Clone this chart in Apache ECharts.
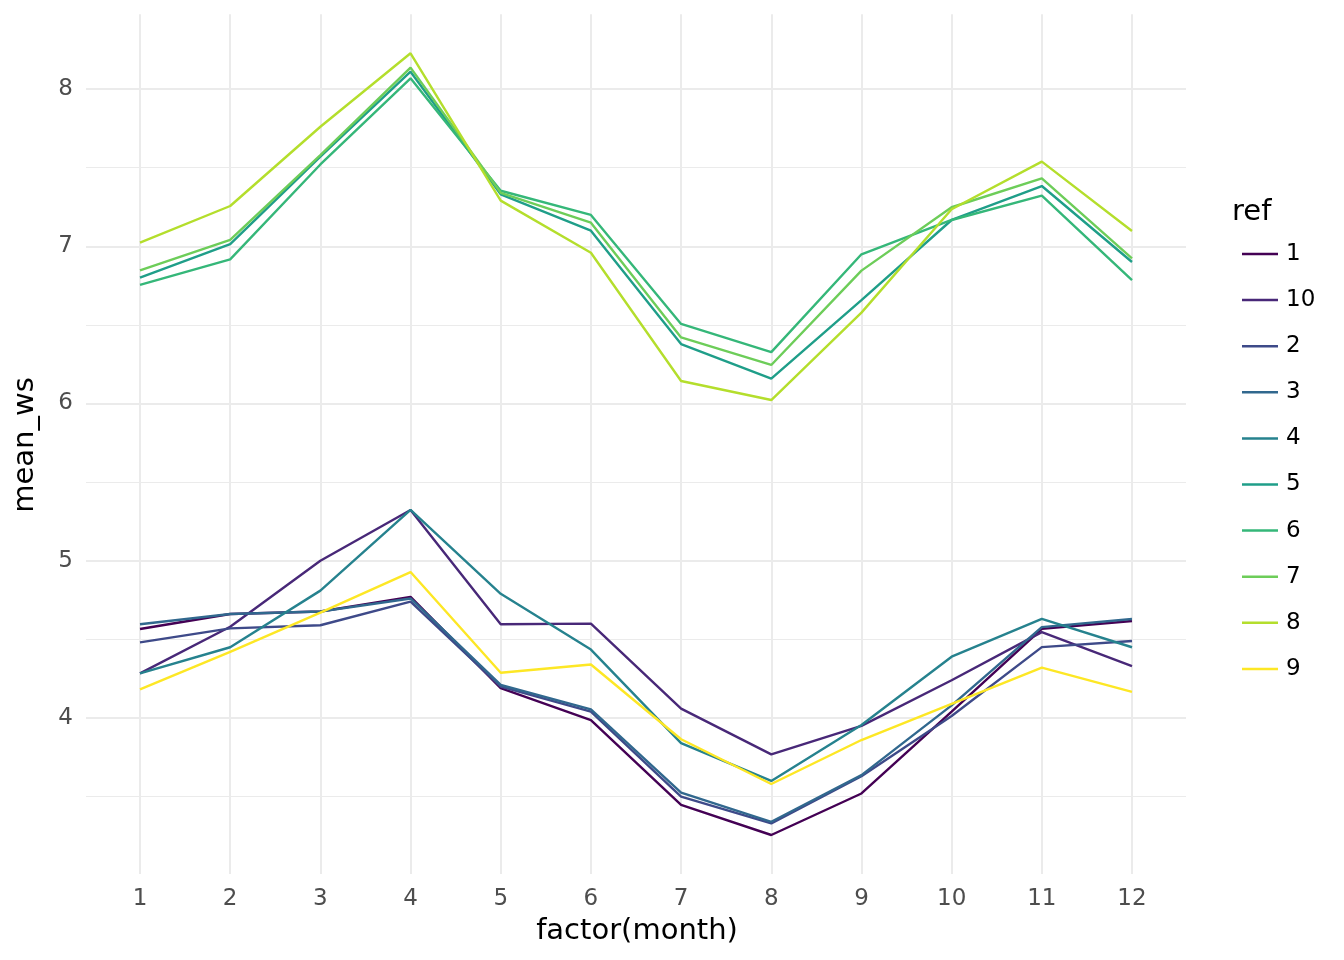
<!DOCTYPE html>
<html>
<head>
<meta charset="utf-8">
<script src="https://cdn.jsdelivr.net/npm/echarts@6/dist/echarts.min.js"></script>
<style>
html,body{margin:0;padding:0;background:#fff;}
#chart{width:1344px;height:960px;}
</style>
</head>
<body>
<div id="chart"></div>
<script>
const months = ['1','2','3','4','5','6','7','8','9','10','11','12'];
const refs = ['1','10','2','3','4','5','6','7','8','9'];
const colors = ['#440154','#482878','#3E4A89','#31688E','#26828E','#1F9E89','#35B779','#6DCD59','#B4DE2C','#FDE725'];
const yTicks = [4,5,6,7,8];

const ref1  = [4.566, 4.661, 4.677, 4.770, 4.190, 3.987, 3.447, 3.256, 3.520, 4.040, 4.567, 4.617];
const ref10 = [4.284, 4.580, 5.000, 5.323, 4.596, 4.600, 4.060, 3.769, 3.950, 4.240, 4.546, 4.330];
const ref2  = [4.481, 4.570, 4.590, 4.740, 4.200, 4.040, 3.500, 3.330, 3.630, 4.013, 4.451, 4.490];
const ref3  = [4.596, 4.661, 4.677, 4.760, 4.210, 4.055, 3.526, 3.340, 3.637, 4.080, 4.578, 4.630];
const ref4  = [4.284, 4.450, 4.810, 5.323, 4.790, 4.435, 3.840, 3.600, 3.955, 4.390, 4.630, 4.450];
const ref5  = [6.800, 7.014, 7.570, 8.110, 7.330, 7.099, 6.378, 6.158, 6.658, 7.167, 7.383, 6.900];
const ref6  = [6.754, 6.917, 7.520, 8.068, 7.353, 7.199, 6.506, 6.327, 6.949, 7.167, 7.322, 6.785];
const ref7  = [6.847, 7.040, 7.580, 8.136, 7.340, 7.150, 6.420, 6.245, 6.845, 7.248, 7.432, 6.923];
const ref8  = [7.023, 7.256, 7.760, 8.227, 7.290, 6.959, 6.143, 6.022, 6.578, 7.235, 7.538, 7.097];
const ref9  = [4.182, 4.420, 4.670, 4.928, 4.288, 4.340, 3.865, 3.580, 3.860, 4.090, 4.320, 4.166];

const seriesData = [ref1, ref10, ref2, ref3, ref4, ref5, ref6, ref7, ref8, ref9];

// ggplot-like 5% expansion of the data range
let dMin = Infinity, dMax = -Infinity;
seriesData.forEach(a => a.forEach(v => { dMin = Math.min(dMin, v); dMax = Math.max(dMax, v); }));
const span = dMax - dMin;
const yMin = dMin - 0.05 * span;
const yMax = dMax + 0.05 * span;

// layout: value 8 at y=89, value 4 at y=718
const pxPerUnit = (718 - 89) / 4;
const yOf = v => 89 + (8 - v) * pxPerUnit;
const bgMin = 3, bgMax = 8.5;
const bgTop = yOf(bgMax), bgHeight = (bgMax - bgMin) * pxPerUnit;
const dTop = yOf(yMax), dHeight = (yMax - yMin) * pxPerUnit;

const FONT = 'DejaVu Sans';
const chart = echarts.init(document.getElementById('chart'), null, {renderer: 'canvas'});

const option = {
  animation: false,
  backgroundColor: '#ffffff',
  textStyle: {fontFamily: FONT},
  grid: [
    {left: 86, width: 1100, top: bgTop, height: bgHeight, containLabel: false},
    {left: 140, width: 992, top: dTop, height: dHeight, containLabel: false}
  ],
  xAxis: [
    {gridIndex: 0, type: 'value', min: 0, max: 1, show: false},
    {
      gridIndex: 1, type: 'category', data: months, boundaryGap: false,
      axisLine: {show: false}, axisTick: {show: false},
      axisLabel: {interval: 0, fontFamily: FONT, fontSize: 23, lineHeight: 23, color: '#4D4D4D', margin: 13},
      splitLine: {show: true, interval: 0, lineStyle: {color: '#EBEBEB', width: 2}}
    }
  ],
  yAxis: [
    {
      gridIndex: 0, type: 'value', min: bgMin, max: bgMax, interval: 1,
      axisLine: {show: false}, axisTick: {show: false},
      axisLabel: {
        showMinLabel: false, showMaxLabel: false,
        fontFamily: FONT, fontSize: 23, color: '#4D4D4D', margin: 13,
        formatter: v => (yTicks.indexOf(v) >= 0 ? String(v) : '')
      },
      splitLine: {show: true, showMinLine: false, showMaxLine: false, lineStyle: {color: '#EBEBEB', width: 2}}
    },
    {
      gridIndex: 0, type: 'value', min: bgMin, max: bgMax, interval: 0.5,
      axisLine: {show: false}, axisTick: {show: false}, axisLabel: {show: false},
      splitLine: {show: true, showMinLine: false, showMaxLine: false, lineStyle: {color: '#EBEBEB', width: 1}}
    },
    {
      gridIndex: 1, type: 'value', min: yMin, max: yMax, show: false,
      splitLine: {show: false}
    }
  ],
  legend: {
    orient: 'vertical', left: 1237, top: 237,
    itemWidth: 36, itemHeight: 2.5, itemGap: 22.1,
    icon: 'rect',
    data: refs,
    textStyle: {fontFamily: FONT, fontSize: 23, lineHeight: 24, height: 24, color: '#000000', padding: [0, 0, 0, 3]}
  },
  graphic: [
    {type: 'text', left: 1232, top: 198, style: {text: 'ref', fontFamily: FONT, fontSize: 29, fill: '#000000'}},
    {type: 'text', x: 637, y: 931, style: {text: 'factor(month)', fontFamily: FONT, fontSize: 29, fill: '#000000', align: 'center', verticalAlign: 'middle'}},
    {type: 'text', x: 25, y: 445, rotation: Math.PI / 2, style: {text: 'mean_ws', fontFamily: FONT, fontSize: 29, fill: '#000000', align: 'center', verticalAlign: 'middle'}}
  ],
  series: refs.map((r, i) => ({
    name: r, type: 'line', xAxisIndex: 1, yAxisIndex: 2,
    data: seriesData[i], symbol: 'none', smooth: false,
    lineStyle: {color: colors[i], width: 2.4},
    itemStyle: {color: colors[i]},
    emphasis: {disabled: true}
  }))
};
chart.setOption(option);
</script>
</body>
</html>
